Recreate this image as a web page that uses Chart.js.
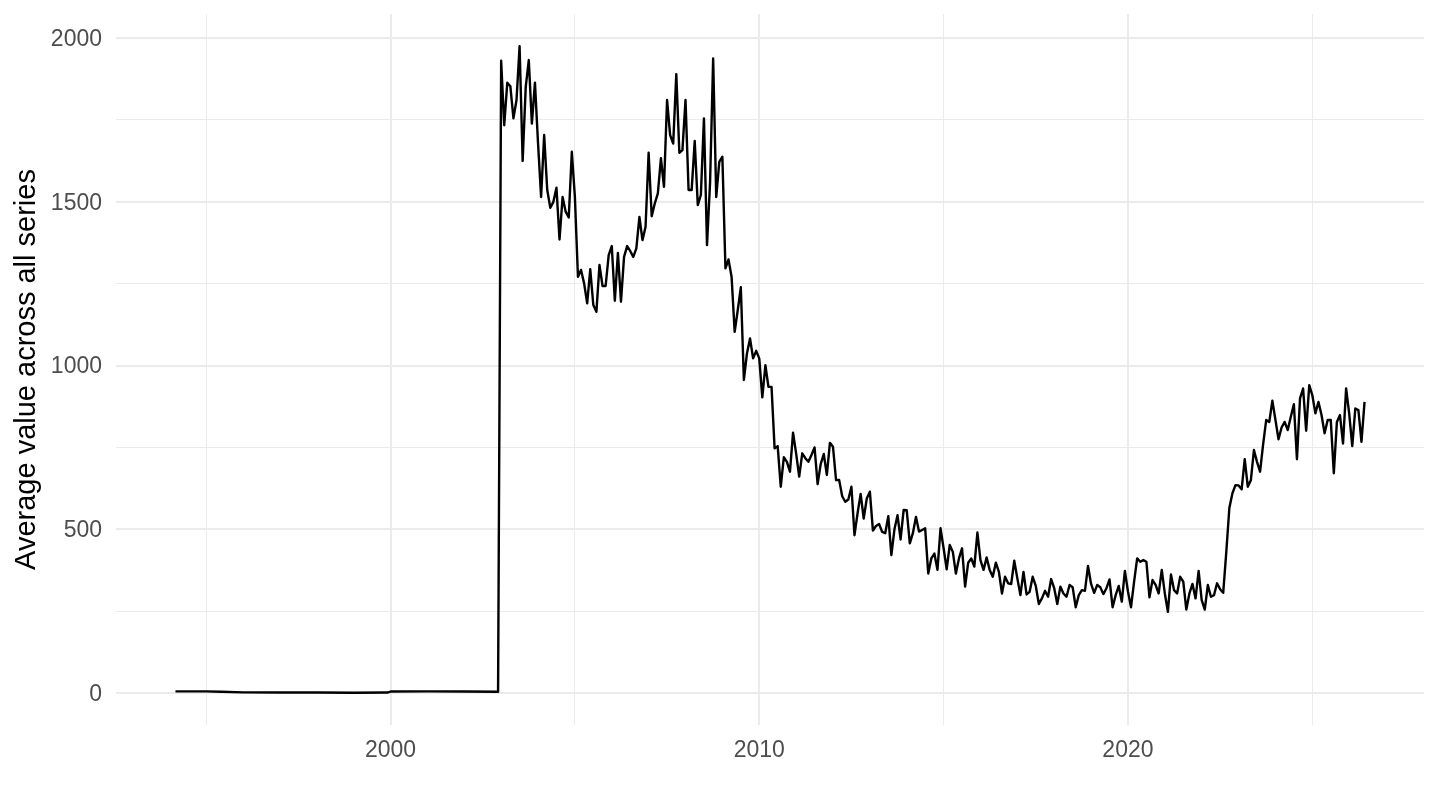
<!DOCTYPE html>
<html>
<head>
<meta charset="utf-8">
<script src="https://cdn.jsdelivr.net/npm/chart.js@4"></script>
<style>
  html, body { margin: 0; padding: 0; background: #ffffff; }
  #wrap { width: 1440px; height: 810px; }
  canvas { display: block; }
</style>
</head>
<body>
<div id="wrap"><canvas id="c" width="1440" height="810"></canvas></div>
<script>
// ---- Data ----
// Early period, sparse readings (values are near zero)
const earlyDates  = ['1994-03', '1995-01', '1995-06', '1996-01', '1997-01', '1998-01', '1999-01', '1999-12', '2000-01', '2001-01', '2002-01', '2002-12'];
const earlyValues = [5, 5, 4, 2, 1.5, 1.5, 1, 1.5, 4.5, 5, 4.5, 4];

// Monthly values from January 2003 onward
const firstMonth = '2003-01';
const values2003 = [1931, 1734, 1864, 1853, 1755, 1811, 1975, 1625, 1851, 1933, 1739, 1864];
const values2004 = [1680, 1515, 1704, 1536, 1482, 1500, 1543, 1385, 1515, 1470, 1452, 1653];
const values2005 = [1515, 1271, 1292, 1251, 1190, 1294, 1185, 1164, 1307, 1243, 1243, 1337];
const values2006 = [1365, 1198, 1344, 1195, 1332, 1365, 1350, 1332, 1358, 1454, 1383, 1424];
const values2007 = [1650, 1456, 1495, 1526, 1633, 1546, 1811, 1704, 1678, 1890, 1650, 1658];
const values2008 = [1811, 1536, 1536, 1686, 1490, 1521, 1755, 1368, 1560, 1938, 1515, 1622];
const values2009 = [1638, 1297, 1324, 1271, 1103, 1169, 1239, 956, 1037, 1083, 1022, 1045];
const values2010 = [1022, 903, 1001, 935, 935, 747, 754, 630, 720, 706, 676, 795];
const values2011 = [732, 661, 732, 717, 706, 727, 750, 638, 699, 730, 666, 764];
const values2012 = [752, 650, 651, 601, 584, 591, 630, 482, 549, 608, 533, 594];
const values2013 = [615, 496, 510, 516, 492, 488, 540, 421, 500, 543, 469, 559];
const values2014 = [558, 457, 488, 538, 493, 498, 503, 365, 411, 426, 376, 503];
const values2015 = [442, 378, 452, 431, 365, 411, 442, 325, 398, 411, 386, 490];
const values2016 = [406, 376, 414, 376, 355, 398, 370, 304, 355, 335, 333, 404];
const values2017 = [350, 299, 370, 301, 309, 355, 327, 272, 289, 312, 294, 348];
const values2018 = [320, 272, 325, 304, 294, 330, 323, 262, 299, 314, 312, 388];
const values2019 = [333, 306, 330, 323, 302, 320, 347, 262, 299, 327, 279, 373];
const values2020 = [310, 262, 340, 411, 401, 406, 401, 292, 345, 330, 304, 376];
const values2021 = [304, 248, 362, 314, 304, 355, 340, 255, 304, 333, 289, 373];
const values2022 = [284, 255, 330, 294, 299, 335, 317, 306, 430, 565, 610, 635];
const values2023 = [634, 622, 714, 630, 650, 742, 706, 676, 760, 834, 828, 893];
const values2024 = [834, 775, 811, 828, 803, 844, 882, 714, 900, 930, 801, 940];
const values2025 = [910, 854, 889, 849, 793, 834, 834, 671, 828, 849, 762, 930];
const values2026 = [854, 754, 869, 864, 767, 889];

// Axis ticks
const xMajorTicks = [2000, 2010, 2020];
const xMinorTicks = [1995, 2005, 2015, 2025];
const yMajorTicks = [0, 500, 1000, 1500, 2000];
const yMinorTicks = [250, 750, 1250, 1750];
const yTitle = 'Average value across all series';

// ---- Build dataset ----
function ymToYear(s) {
  const [y, m] = s.split('-').map(Number);
  return y + (m - 1) / 12;
}
const monthly = [].concat(values2003, values2004, values2005, values2006, values2007, values2008,
  values2009, values2010, values2011, values2012, values2013, values2014, values2015, values2016,
  values2017, values2018, values2019, values2020, values2021, values2022, values2023, values2024,
  values2025, values2026);
const start = ymToYear(firstMonth);
const points = earlyDates.map((d, i) => ({ x: ymToYear(d), y: earlyValues[i] }))
  .concat(monthly.map((v, i) => ({ x: start + i / 12, y: v })));

// ggplot-like 5% expansion
const xs = points.map(p => p.x), ys = points.map(p => p.y);
const xMinD = Math.min(...xs), xMaxD = Math.max(...xs);
const yMinD = Math.min(...ys), yMaxD = Math.max(...ys);
const xPad = (xMaxD - xMinD) * 0.05, yPad = (yMaxD - yMinD) * 0.05;

const FONT = '"Liberation Sans", Arial, Helvetica, sans-serif';
const GRID = '#EBEBEB';

new Chart(document.getElementById('c'), {
  type: 'line',
  data: {
    datasets: [{
      data: points,
      borderColor: '#000000',
      borderWidth: 2.4,
      borderJoinStyle: 'round',
      borderCapStyle: 'butt',
      pointRadius: 0,
      tension: 0,
      fill: false
    }]
  },
  options: {
    responsive: false,
    animation: false,
    devicePixelRatio: 1,
    layout: { padding: { left: 0, top: 14, right: 16, bottom: 0 } },
    plugins: { legend: { display: false }, tooltip: { enabled: false } },
    scales: {
      x: {
        type: 'linear',
        min: xMinD - xPad,
        max: xMaxD + xPad,
        afterBuildTicks: s => { s.ticks = xMinorTicks.concat(xMajorTicks).sort((a, b) => a - b).map(v => ({ value: v })); },
        afterFit: s => { s.height = 85; s.paddingLeft = 0; s.paddingRight = 0; },
        border: { display: false },
        grid: {
          color: GRID,
          drawTicks: false,
          lineWidth: ctx => (ctx.tick && xMajorTicks.includes(ctx.tick.value)) ? 2 : 1
        },
        ticks: {
          autoSkip: false,
          maxRotation: 0,
          padding: 12,
          color: '#4D4D4D',
          font: { family: FONT, size: 23 },
          callback: v => xMajorTicks.includes(v) ? String(v) : ''
        }
      },
      y: {
        type: 'linear',
        min: yMinD - yPad,
        max: yMaxD + yPad,
        afterBuildTicks: s => { s.ticks = yMinorTicks.concat(yMajorTicks).sort((a, b) => a - b).map(v => ({ value: v })); },
        afterFit: s => { s.width = 116; s.paddingTop = 0; s.paddingBottom = 0; },
        border: { display: false },
        grid: {
          color: GRID,
          drawTicks: false,
          lineWidth: ctx => (ctx.tick && yMajorTicks.includes(ctx.tick.value)) ? 2 : 1
        },
        ticks: {
          autoSkip: false,
          padding: 14,
          labelOffset: 1.5,
          color: '#4D4D4D',
          font: { family: FONT, size: 23 },
          callback: v => yMajorTicks.includes(v) ? String(v) : ''
        },
        title: {
          display: true,
          text: yTitle,
          color: '#000000',
          font: { family: FONT, size: 29 },
          padding: { top: 10, bottom: 0 }
        }
      }
    }
  }
});
</script>
</body>
</html>
